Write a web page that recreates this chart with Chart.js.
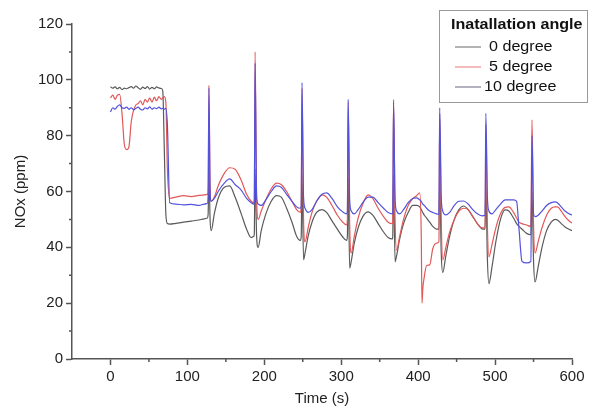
<!DOCTYPE html>
<html>
<head>
<meta charset="utf-8">
<title>NOx vs time</title>
<script src="https://cdn.jsdelivr.net/npm/chart.js@4/dist/chart.umd.min.js"></script>
<style>
  body { margin: 0; background: #fff; }
</style>
</head>
<body>
<canvas id="chart" width="593" height="412"></canvas>
<script>
// Time stamps (s), shared by the three series
const time = [
  0, 3, 6, 9, 12, 15, 18, 21, 24, 27, 30, 33, 36, 39, 42, 45, 48, 51, 54, 57, 60, 63, 66, 68, 70, 72, 74, 77, 85, 95, 105, 115, 122, 126,
  127, 128, 129.5, 131, 135, 140, 148, 155, 162, 170, 177, 183, 186.5,
  187, 188, 190, 192, 196, 202, 209, 216, 222, 229, 236, 242, 247,
  248, 249, 251, 253, 257, 262, 268, 275, 281, 288, 295, 302, 307,
  308, 309, 311, 313, 317, 322, 328, 335, 341, 348, 355, 361, 366.5,
  367, 368, 370, 372, 376, 381, 387, 393, 398, 402, 404, 405, 406, 408, 411, 415, 419, 424, 427,
  428, 430, 432, 436, 441, 447, 453, 459, 465, 471, 477, 483, 487,
  488, 490, 492, 496, 501, 507, 513, 518, 524, 528, 531, 535, 541, 546.5,
  548, 550, 552, 556, 561, 567, 573, 578, 581, 586, 591, 596, 600
];

// NOx (ppm) for each installation angle
const deg0 = [
  97.5, 97, 97.5, 96.8, 97.3, 96.5, 97, 96.8, 97.2, 97.6, 97, 97.8, 97.2, 96.6, 97.4, 96.9, 97.6, 96.7, 97.3, 96.8, 97.5, 97.1, 96.9, 96, 75, 52, 48.5, 48.3, 48.6, 49, 49.4, 49.8, 50.2, 50.5,
  52, 68, 50, 46, 52, 57.5, 61.5, 62, 58, 52, 46.5, 43.5, 44,
  45, 68, 44, 40, 46, 52, 56.5, 58.5, 58, 54, 49, 44, 42.5,
  44, 66, 35.5, 38, 44, 49, 52.5, 53.5, 52.5, 49.5, 46.5, 43.7, 42.5,
  44, 65, 32.5, 35, 41.5, 47, 51, 52.7, 51.5, 48.5, 45.5, 43.5, 43,
  44, 66, 34.8, 37, 43, 48.5, 52.5, 55, 55, 54.5, 53.5, 53, 52.5, 51.5, 50.5, 49, 47.5, 46.5, 46.5,
  64, 38, 31, 37, 44, 50, 53.5, 54.8, 53.5, 51, 48.5, 46.6, 46.5,
  62, 36, 27, 33, 42, 50, 53.4, 53, 50.5, 48.5, 47.5, 46.5, 45, 44.5,
  60, 35, 27.6, 33, 40, 46, 49, 50, 49.8, 48.5, 47.3, 46.5, 46
];

const deg5 = [
  93.5, 94.5, 93, 94.5, 94.8, 88, 77, 75, 76, 85, 89, 91, 91.5, 92.5, 91, 93, 92, 93.5, 92, 93.8, 92.5, 94, 93, 93.5, 94, 92, 68, 57.5, 58, 58.5, 58.2, 58.6, 58.8, 59,
  60, 98, 62, 56.5, 58, 62, 66.5, 68.5, 68, 64, 59, 56.5, 56,
  57, 110, 58, 50, 53, 57, 61, 63, 62.5, 60, 56.5, 53.5, 52.5,
  55, 97, 50, 42, 47, 52.5, 56.5, 58.8, 58, 55, 51.5, 49, 48,
  50, 92, 48, 38, 44, 50.5, 55.5, 58.8, 57.5, 54, 51, 49, 48.5,
  49, 93, 50, 39, 44, 50, 55, 57.5, 58.5, 59.5, 45, 20, 25, 29.5, 33.5, 33.7, 39.5, 41.5, 42,
  88, 50, 35.5, 40, 45.5, 50, 53, 54, 53.5, 51, 48.5, 47, 47,
  84, 48, 36.6, 41, 47, 52, 54.3, 54.5, 52.5, 50.5, 49, 48.5, 48, 47.5,
  85.7, 48, 38, 42, 47, 51.5, 54, 54.5, 54.5, 53, 51, 49.5, 48.7
];

const deg10 = [
  88.5, 90, 89.5, 90.5, 91, 90, 89.8, 90.2, 89.5, 90, 89.3, 89.8, 90.2, 89.5, 89.2, 90, 89.6, 90.3, 89.5, 90, 89.7, 90.2, 89.6, 89.8, 89.5, 89.8, 84, 56, 55.5, 55.2, 55.4, 55, 55.5, 55.8,
  58, 97, 60, 56.5, 57.5, 60, 63, 64.5, 62.5, 60.5, 57.5, 56, 55.5,
  56, 106, 58, 55.5, 55, 57, 60, 62, 61.5, 59, 56.5, 54.5, 54,
  55, 99, 58, 54, 52.5, 53.5, 56.5, 59, 59.5, 57.5, 54.5, 52.7, 52,
  53, 93, 57, 53, 52, 53.5, 56, 58, 58, 56, 54, 52.5, 52,
  52, 92, 57, 53, 52, 53.5, 56, 57.5, 57.7, 57, 56.5, 56, 55.5, 55, 54, 53, 52.5, 52, 51.8,
  90, 58, 53, 51.6, 52.5, 55, 56.5, 56.6, 55.5, 53.5, 52, 51.3, 51.5,
  88, 58, 53, 52, 53.5, 55.5, 57, 57, 57, 56.5, 47, 35, 34.4, 35,
  80, 52, 51, 51.5, 53, 55, 56, 56.3, 56, 54.5, 53, 52, 51.6
];

const seriesNames = ['0 degree', '5 degree', '10 degree'];
const legendTitle = 'Inatallation angle';

// Axis ticks
const xTicks = [0, 100, 200, 300, 400, 500, 600];
const xMinor = [50, 150, 250, 350, 450, 550];
const yTicks = [0, 20, 40, 60, 80, 100, 120];
const yMinor = [10, 30, 50, 70, 90, 110];

const axisColor = '#555';
const textColor = '#222';
const lineColors = ['#5a5a5a', '#e25858', '#5252dc'];
const swatchColors = ['#9a9a9a', '#f0a4a4', '#9a9aaa'];

Chart.defaults.font.family = "'Liberation Sans', Arial, sans-serif";
Chart.defaults.color = textColor;

function points(values) {
  return time.map((t, i) => ({ x: t, y: values[i] }));
}

// Minor ticks and the boxed legend, drawn over the chart
const extrasPlugin = {
  id: 'extras',
  afterDraw(chart) {
    const ctx = chart.ctx;
    const xs = chart.scales.x;
    const ys = chart.scales.y;
    ctx.save();

    ctx.strokeStyle = axisColor;
    ctx.lineWidth = 1.5;
    ctx.beginPath();
    xMinor.forEach(v => {
      const px = xs.getPixelForValue(v);
      ctx.moveTo(px, xs.top);
      ctx.lineTo(px, xs.top + 3);
    });
    yMinor.forEach(v => {
      const py = ys.getPixelForValue(v);
      ctx.moveTo(ys.right, py);
      ctx.lineTo(ys.right - 3, py);
    });
    ctx.stroke();

    // legend box
    ctx.fillStyle = '#fff';
    ctx.fillRect(439.5, 10.5, 148, 92);
    ctx.strokeStyle = '#999';
    ctx.lineWidth = 1;
    ctx.strokeRect(439.5, 10.5, 148, 92);

    ctx.fillStyle = '#111';
    ctx.textBaseline = 'middle';
    ctx.textAlign = 'left';

    ctx.save();
    ctx.translate(451, 25);
    ctx.scale(1.15, 1);
    ctx.font = "bold 14px 'Liberation Sans', Arial, sans-serif";
    ctx.fillText(legendTitle, 0, 0);
    ctx.restore();

    seriesNames.forEach((name, i) => {
      const y = 47 + i * 20;
      ctx.strokeStyle = swatchColors[i];
      ctx.lineWidth = 1.5;
      ctx.beginPath();
      ctx.moveTo(455, y);
      ctx.lineTo(481, y);
      ctx.stroke();

      ctx.save();
      ctx.translate(i === 2 ? 484 : 489, y);
      ctx.scale(1.15, 1);
      ctx.font = "14px 'Liberation Sans', Arial, sans-serif";
      ctx.fillStyle = '#111';
      ctx.fillText(name, 0, 0);
      ctx.restore();
    });

    ctx.restore();
  }
};

const datasets = [deg0, deg5, deg10].map((values, i) => ({
  label: seriesNames[i],
  data: points(values),
  borderColor: lineColors[i],
  borderWidth: 1.2,
  pointRadius: 0,
  fill: false,
  cubicInterpolationMode: 'monotone',
  order: 2 - i
}));

new Chart(document.getElementById('chart'), {
  type: 'line',
  data: { datasets },
  options: {
    responsive: false,
    devicePixelRatio: 1,
    animation: false,
    layout: { padding: { top: 24, right: 21, bottom: 0, left: 0 } },
    plugins: {
      legend: { display: false },
      tooltip: { enabled: false }
    },
    scales: {
      x: {
        type: 'linear',
        min: -50,
        max: 600,
        afterBuildTicks: s => { s.ticks = xTicks.map(v => ({ value: v })); },
        afterFit: s => { s.height = 53; },
        ticks: { font: { size: 15 }, color: textColor, padding: 3, autoSkip: false, maxRotation: 0 },
        grid: { drawOnChartArea: false, tickLength: 6, tickColor: axisColor, tickWidth: 1.5 },
        border: { color: axisColor, width: 1.5 },
        title: { display: true, text: 'Time (s)', font: { size: 15 }, color: textColor, padding: { top: 4, bottom: 4 } }
      },
      y: {
        min: 0,
        max: 120,
        afterBuildTicks: s => { s.ticks = yTicks.map(v => ({ value: v })); },
        afterFit: s => { s.width = 72; },
        ticks: { font: { size: 15 }, color: textColor, padding: 3 },
        grid: { drawOnChartArea: false, tickLength: 6, tickColor: axisColor, tickWidth: 1.5 },
        border: { color: axisColor, width: 1.5 },
        title: { display: true, text: 'NOx (ppm)', font: { size: 15 }, color: textColor, padding: { top: 12, bottom: 0 } }
      }
    }
  },
  plugins: [extrasPlugin]
});
</script>
</body>
</html>
